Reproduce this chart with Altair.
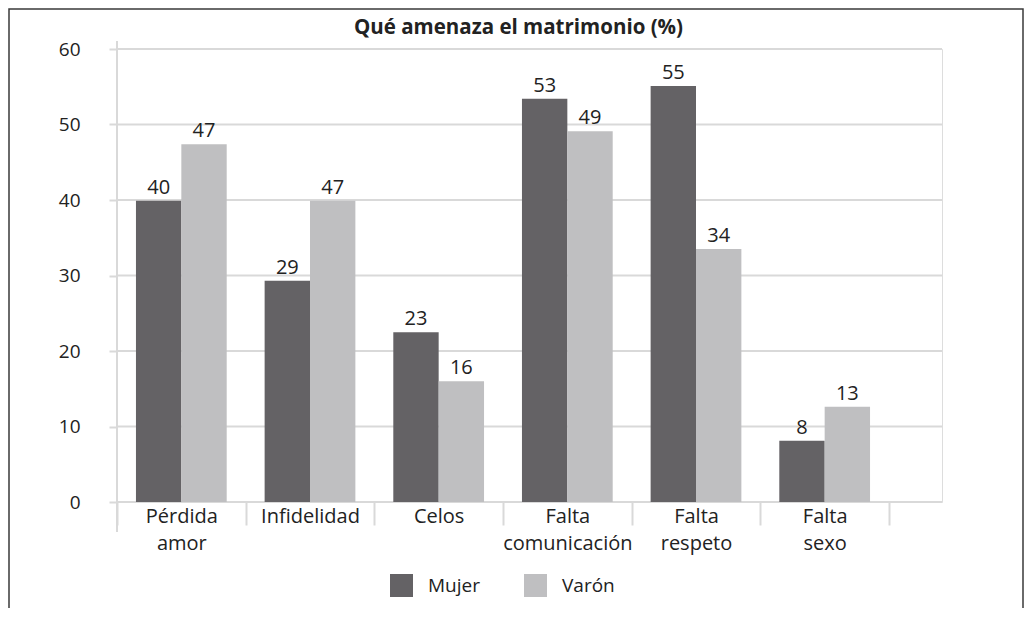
import altair as alt
import pandas as pd

categories = ["Pérdida amor", "Infidelidad", "Celos", "Falta comunicación", "Falta respeto", "Falta sexo"]
series = ["Mujer", "Varón"]
mujer = [39.9, 29.3, 22.5, 53.4, 55.1, 8.1]
varon = [47.4, 39.9, 16.0, 49.1, 33.5, 12.6]
mujer_labels = ["40", "29", "23", "53", "55", "8"]
varon_labels = ["47", "47", "16", "49", "34", "13"]
y_ticks = [0, 10, 20, 30, 40, 50, 60]
colors = ["#646265", "#bfbfc1"]

rows = []
for i, c in enumerate(categories):
    rows.append({"cat": c, "serie": "Mujer", "value": mujer[i], "label": mujer_labels[i]})
    rows.append({"cat": c, "serie": "Varón", "value": varon[i], "label": varon_labels[i]})
df = pd.DataFrame(rows)
grid_df = pd.DataFrame({"v": y_ticks})

FONT = "Open Sans"
TXT = "#222222"
GRID = "#d9d9d9"
W, H = 825, 453

y_axis = alt.Axis(values=y_ticks, grid=False, domain=False, ticks=True, tickSize=8,
                  tickColor=GRID, tickWidth=2, labelPadding=29, labelFontSize=19,
                  labelFont=FONT, labelColor=TXT, title=None)
y_scale = alt.Scale(domain=[0, 60], nice=False)

x_enc = alt.X("cat:N", sort=categories,
              scale=alt.Scale(range=[0, 772], paddingInner=0, paddingOuter=0),
              axis=alt.Axis(title=None, domain=False, ticks=True, tickBand="extent",
                            tickSize=23, tickColor=GRID, tickWidth=2, labelAngle=0,
                            labelPadding=-19, labelFontSize=20, labelFont=FONT,
                            labelColor=TXT, labelLineHeight=27, labelBaseline="top",
                            labelExpr="split(datum.label, ' ')"))
xoff = alt.XOffset("serie:N", sort=series, scale=alt.Scale(paddingOuter=0.418, paddingInner=0))

grid = alt.Chart(grid_df).mark_rule(color=GRID, strokeWidth=2).encode(
    y=alt.Y("v:Q", scale=y_scale, axis=y_axis),
    x=alt.value(0), x2=alt.value(W))

yline = alt.Chart(grid_df).mark_rule(color=GRID, strokeWidth=2).encode(
    x=alt.value(0), y=alt.value(-8), y2=alt.value(H + 30))

bars = alt.Chart(df).mark_bar().encode(
    x=x_enc, xOffset=xoff,
    y=alt.Y("value:Q", scale=y_scale, axis=y_axis),
    color=alt.Color("serie:N", sort=series,
                    scale=alt.Scale(domain=series, range=colors),
                    legend=alt.Legend(title=None, orient="none", legendX=273, legendY=525,
                                      direction="horizontal", symbolType="square",
                                      symbolSize=529, symbolStrokeWidth=0,
                                      labelFontSize=19, labelFont=FONT, labelColor=TXT,
                                      labelOffset=15, columnPadding=44, padding=0)))

texts = alt.Chart(df).mark_text(baseline="bottom", dy=-3, fontSize=20, font=FONT, color=TXT).encode(
    x=x_enc, xOffset=xoff,
    y=alt.Y("value:Q", scale=y_scale, axis=y_axis),
    text="label:N")

frame = alt.Chart(grid_df.head(1)).mark_rect(filled=False, stroke="#3a3a3a", strokeWidth=1.5).encode(
    x=alt.value(-108), x2=alt.value(906), y=alt.value(-40), y2=alt.value(H + 200))

chart = alt.layer(grid, yline, bars, texts, frame).properties(
    width=W, height=H,
    title=alt.TitleParams("Qué amenaza el matrimonio (%)", fontSize=20.5, fontWeight="bold",
                          font=FONT, color=TXT, anchor="middle", dx=-11, offset=0,
                          baseline="alphabetic", dy=46),
    autosize=alt.AutoSizeParams(type="none"),
    padding={"left": 109, "top": 41, "right": 82, "bottom": 106},
).configure_view(stroke=None).configure(background="white")

chart.save("out.html", embed_options={"renderer": "svg", "actions": False})
